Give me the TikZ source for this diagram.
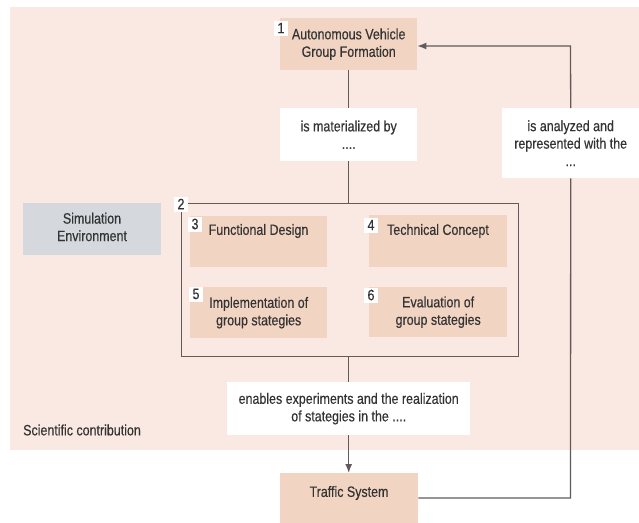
\documentclass[tikz,border=0pt]{standalone}
\usepackage{fontspec}
\setmainfont{Liberation Sans}[FakeStretch=0.83, FakeBold=0.4]
\usetikzlibrary{arrows.meta}
\definecolor{bgpink}{HTML}{FAE9E2}
\definecolor{peach}{HTML}{F2D4C3}
\definecolor{simgray}{HTML}{D5D9DD}
\definecolor{linegray}{HTML}{625A5A}
\definecolor{txt}{HTML}{333333}
\tikzset{
  lbl/.style={font=\fontsize{15}{17.5}\selectfont, text=txt, align=center, inner sep=0pt},
  area/.style={draw=none, inner sep=0pt, anchor=north west, lbl},
  peachbox/.style={area, fill=peach},
  whitebox/.style={area, fill=white},
  badge/.style={fill=white, inner sep=0pt, minimum width=14pt, minimum height=15pt,
    font=\fontsize{15}{15}\selectfont, text=txt},
  conn/.style={draw=linegray, line width=1.3pt},
  tip/.style={-{Latex[length=9pt,width=7pt]}}
}
\begin{document}
\begin{tikzpicture}[x=1pt,y=-1pt]
\useasboundingbox (0,0) rectangle (639,522);
% light background panel of the scientific contribution
\fill[bgpink] (10,7) rectangle (639,450);
\node[lbl, anchor=west] (sci) at (23,430) {Scientific contribution};

% main boxes
\node[peachbox, minimum width=137pt, minimum height=52pt] (b1) at (280,18)
  {Autonomous Vehicle\\Group Formation};
\node[whitebox, minimum width=137pt, minimum height=53pt] (mat) at (280,108)
  {is materialized by\\....};
\node[area, draw=linegray, line width=1.3pt, minimum width=337pt, minimum height=153pt] (b2) at (181,203) {};
\node[area, fill=simgray, minimum width=138pt, minimum height=52pt] (sim) at (23,203) {};
\node[lbl] (tsim) at (92,227) {Simulation\\Environment};

\node[peachbox, minimum width=137pt, minimum height=51pt] (b3) at (190,216) {};
\node[lbl] (t3) at (258.5,231) {Functional Design};
\node[peachbox, minimum width=138pt, minimum height=52pt] (b4) at (369,215) {};
\node[lbl] (t4) at (438,231) {Technical Concept};
\node[peachbox, minimum width=137pt, minimum height=51pt] (b5) at (190,287)
  {Implementation of\\group stategies};
\node[peachbox, minimum width=138pt, minimum height=50pt] (b6) at (369,287)
  {Evaluation of\\group stategies};

\node[whitebox, minimum width=243pt, minimum height=53pt] (en) at (227,382)
  {enables experiments and the realization\\of stategies in the ....};
\node[peachbox, minimum width=138pt, minimum height=52pt] (ts) at (280,473) {};
\node[lbl] (tts) at (349,493) {Traffic System};

% feedback label on the right
\node[whitebox, minimum width=137pt, minimum height=70pt] (ana) at (502,108)
  {is analyzed and\\represented with the\\...};

% number badges
\node[badge] (n1) at (281,28) {1};
\node[badge] (n2) at (181,204) {2};
\node[badge] (n3) at (195,224) {3};
\node[badge] (n4) at (371,225) {4};
\node[badge] (n5) at (196,294) {5};
\node[badge] (n6) at (371,295) {6};

% connectors
\draw[conn] (b1.south) -- (b1.south |- mat.north);
\draw[conn] (mat.south) -- (mat.south |- b2.north);
\draw[conn] (en.north |- b2.south) -- (en.north);
\draw[conn, tip] (en.south) -- (en.south |- ts.north);
\coordinate (cb) at (570.5,498);
\coordinate (ct) at (570.5,46);
\draw[conn] (ts.east |- cb) -- (cb) -- (ana.south);
\draw[conn, tip] (ana.north) -- (ct) -- (b1.east |- ct);
\end{tikzpicture}
\end{document}
